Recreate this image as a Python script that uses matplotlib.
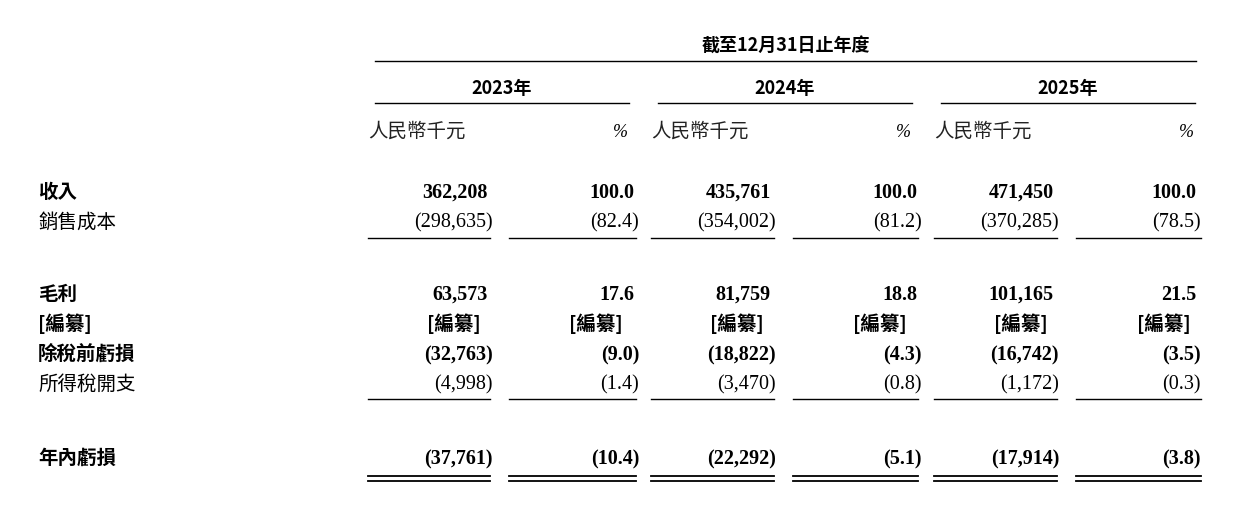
import matplotlib
matplotlib.use("Agg")
import matplotlib.pyplot as plt

header = "截至12月31日止年度"
years = ["2023年", "2024年", "2025年"]
unit_labels = ["人民幣千元", "%"]
row_labels = ["收入", "銷售成本", "毛利", "[編纂]", "除稅前虧損", "所得稅開支", "年內虧損"]
row_bold = [True, False, True, True, True, False, True]
values = [
    ["362,208", "100.0", "435,761", "100.0", "471,450", "100.0"],
    ["(298,635)", "(82.4)", "(354,002)", "(81.2)", "(370,285)", "(78.5)"],
    ["63,573", "17.6", "81,759", "18.8", "101,165", "21.5"],
    ["[編纂]", "[編纂]", "[編纂]", "[編纂]", "[編纂]", "[編纂]"],
    ["(32,763)", "(9.0)", "(18,822)", "(4.3)", "(16,742)", "(3.5)"],
    ["(4,998)", "(1.4)", "(3,470)", "(0.8)", "(1,172)", "(0.3)"],
    ["(37,761)", "(10.4)", "(22,292)", "(5.1)", "(17,914)", "(3.8)"],
]

row_y = [192, 222, 294, 324, 354, 384, 458]
col_right = [488, 634, 771, 917, 1054, 1196]
col_center = [454, 596, 737, 880, 1021, 1164]
seg = [(368, 490), (509, 636), (651, 774), (793, 918), (934, 1057), (1076, 1201)]

CJK = ["Noto Sans CJK TC", "DejaVu Sans"]
SERIF = ["Liberation Serif", "Noto Sans CJK TC"]

fig = plt.figure(figsize=(12.41, 5.06), dpi=100)
ax = fig.add_axes([0, 0, 1, 1])
ax.set_xlim(0, 1241)
ax.set_ylim(506, 0)
ax.axis("off")

ax.text(786, 45, header, ha="center", va="center", fontsize=13, fontweight="bold", family=CJK)
ax.plot([375, 1196], [62, 62], color="black", lw=1)
for i, yr in enumerate(years):
    x0 = 375 + i * 283
    ax.text(x0 + 127, 88, yr, ha="center", va="center", fontsize=13, fontweight="bold", family=CJK)
    ax.plot([x0, x0 + 254], [104, 104], color="black", lw=1)
    ax.text(x0 - 7, 131, unit_labels[0], ha="left", va="center", fontsize=14, family=CJK, color="#222")
    ax.text(x0 + 253, 132, unit_labels[1], ha="right", va="center", fontsize=13, style="italic", family=SERIF)

for r, lab in enumerate(row_labels):
    w = "bold" if row_bold[r] else "normal"
    ax.text(38, row_y[r], lab, ha="left", va="center", fontsize=14, fontweight=w, family=CJK)
    for c, v in enumerate(values[r]):
        if v.startswith("[編"):
            ax.text(col_center[c], row_y[r], v, ha="center", va="center", fontsize=14, fontweight=w, family=CJK)
        elif v.startswith("("):
            ax.text(col_right[c] + 5, row_y[r] + 1, v, ha="right", va="center", fontsize=14.5, fontweight=w, family=SERIF)
        else:
            ax.text(col_right[c], row_y[r] + 1, v, ha="right", va="center", fontsize=14.5, fontweight=w, family=SERIF)

for a, b in seg:
    ax.plot([a, b], [239, 239], color="black", lw=1)
    ax.plot([a, b], [400, 400], color="black", lw=1)
    ax.plot([a, b], [477, 477], color="black", lw=1.3)
    ax.plot([a, b], [482, 482], color="black", lw=1.3)

fig.savefig("out.png", dpi=100)
